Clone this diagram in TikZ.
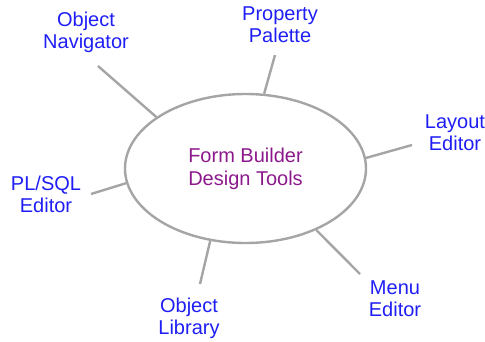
\documentclass[tikz,border=0pt]{standalone}
\usepackage{fontspec}
\setmainfont{Liberation Sans}
\usetikzlibrary{shapes.geometric}
\definecolor{toolblue}{RGB}{30,30,245}
\definecolor{toolpurple}{RGB}{140,25,140}
\definecolor{spokegray}{RGB}{165,165,165}
\begin{document}
\begin{tikzpicture}[x=1pt,y=-1pt,line width=2.4pt,draw=spokegray]
    \tikzstyle{hub}=[ellipse,draw=spokegray,minimum width=241pt,minimum height=149pt,inner sep=0pt,
      text=toolpurple,align=center,font=\fontsize{20}{23}\selectfont]
    \tikzstyle{tool}=[text=toolblue,align=center,anchor=base,inner sep=0pt,font=\fontsize{20}{21.5}\selectfont]
    \tikzstyle{spoke}=[draw=spokegray,line width=2.4pt]

    \useasboundingbox (0,0) rectangle (485,341);

    % Draw the centre ellipse
    \node[hub] (tools) at (245.5,168.5) {Form Builder\\Design Tools};

    % Draw the tool labels round it (placed by the baseline of the lower line)
    \node[tool] (nav) at (86,48) {Object\\Navigator};
    \node[tool] (prop) at (280,42) {Property\\Palette};
    \node[tool] (layout) at (455,150) {Layout\\Editor};
    \node[tool] (plsql) at (46,212) {PL/SQL\\Editor};
    \node[tool] (lib) at (189,334) {Object\\Library};
    \node[tool] (menu) at (395,316) {Menu\\Editor};

    % Free ends of the spokes, just off each label
    \coordinate (nav-end) at (98,66);
    \coordinate (prop-end) at (275,55);
    \coordinate (layout-end) at (412,145);
    \coordinate (plsql-end) at (91,194);
    \coordinate (lib-end) at (200,284);
    \coordinate (menu-end) at (360,274);

    % Draw the spokes
    \foreach \name / \ang in {nav/150.4,prop/76,layout/5.5,plsql/187.9,lib/244.6,menu/319.3}
      \draw[spoke] (\name-end) -- (tools.\ang);
\end{tikzpicture}
\end{document}
